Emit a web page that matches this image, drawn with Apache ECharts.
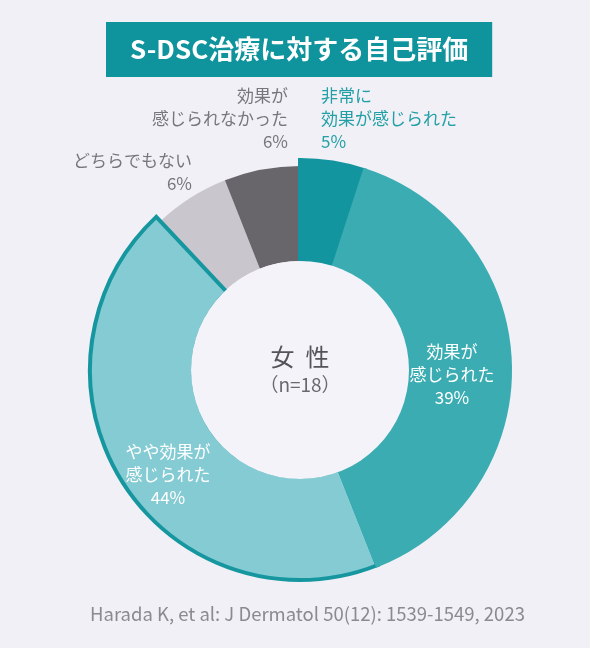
<!DOCTYPE html>
<html>
<head>
<meta charset="utf-8">
<script src="https://cdn.jsdelivr.net/npm/echarts@6/dist/echarts.min.js"></script>
<style>
html,body{margin:0;padding:0;background:#f1f0f6;}
#chart{width:590px;height:648px;}
</style>
</head>
<body>
<div id="chart"></div>
<script>
// ---- data ----
const categories = ['非常に効果が感じられた', '効果が感じられた', 'やや効果が感じられた', 'どちらでもない', '効果が感じられなかった'];
const labelTexts = ['非常に\n効果が感じられた', '効果が\n感じられた', 'やや効果が\n感じられた', 'どちらでもない', '効果が\n感じられなかった'];
const values = [5, 39, 44, 6, 6];
const centerTitle = '女  性';
const centerSub = '（n=18）';
const titleText = 'S-DSC治療に対する自己評価';
const sourceText = 'Harada K, et al: J Dermatol 50(12): 1539-1549, 2023';

// ---- styles ----
const FONT = '"Noto Sans CJK JP", "Noto Sans", sans-serif';
const sliceColors = ['#13959f', '#3aacb2', '#84cbd3', '#c9c7cd', '#68666b'];
const labelColors = ['#22a0a6', '#ffffff', '#ffffff', '#77767c', '#77767c'];
const CENTER = [300, 370];
const BG = '#f1f0f6';

const chart = echarts.init(document.getElementById('chart'), null, {renderer: 'canvas'});

function items(visibleIdx, extra) {
  return values.map((v, i) => {
    const vis = visibleIdx.indexOf(i) >= 0;
    const it = {value: v, name: categories[i],
      itemStyle: {color: vis ? sliceColors[i] : 'transparent', borderWidth: 0}};
    if (extra) extra(it, i, vis);
    return it;
  });
}

const labelPos = [
  {x: 321, y: 84, align: 'left', verticalAlign: 'top'},
  {x: 452, y: 375, align: 'center', verticalAlign: 'middle'},
  {x: 168, y: 475, align: 'center', verticalAlign: 'middle'},
  {x: 192, y: 149, align: 'right', verticalAlign: 'top'},
  {x: 288, y: 84, align: 'right', verticalAlign: 'top'}
];

const common = {type: 'pie', center: CENTER, startAngle: 90, clockwise: true,
  avoidLabelOverlap: false, silent: true, animation: false,
  emphasis: {disabled: true}, labelLine: {show: false}};

chart.setOption({
  backgroundColor: BG,
  title: [{
    text: titleText, left: 106, top: 22,
    backgroundColor: '#0f939c', padding: [12, 24, 13, 24],
    textStyle: {color: '#ffffff', fontSize: 26, fontWeight: 'bold', fontFamily: FONT, lineHeight: 30}
  }, {
    text: sourceText, left: 85, top: 600,
    textStyle: {color: '#8b8a91', fontSize: 18.5, fontWeight: 'normal', fontFamily: FONT}
  }],
  series: [
    Object.assign({}, common, {
      name: 'gray', z: 1, radius: [109, 204],
      label: {show: false},
      data: items([3, 4])
    }),
    Object.assign({}, common, {
      name: 'border', z: 2, radius: [107, 210],
      label: {show: false},
      data: items([2], (it, i, vis) => {
        if (vis) it.itemStyle = {color: sliceColors[i], borderColor: '#16979f', borderWidth: 4, borderJoin: 'miter'};
      })
    }),
    Object.assign({}, common, {
      name: 'teal', z: 3, radius: [107, 210],
      label: {
        show: true, position: 'inside', fontSize: 17, lineHeight: 23, fontFamily: FONT,
        formatter: p => labelTexts[p.dataIndex] + '\n' + p.value + '%'
      },
      labelLayout: p => labelPos[p.dataIndex],
      data: items([0, 1], (it, i, vis) => {
        if (vis) it.itemStyle = {color: sliceColors[i], borderColor: sliceColors[i], borderWidth: 4, borderJoin: 'miter'};
        it.label = {color: labelColors[i]};
      })
    }),
    Object.assign({}, common, {
      name: 'hole', z: 4, radius: [0, 109],
      data: [{value: 1, name: centerTitle, itemStyle: {color: '#f3f3f9', borderWidth: 0}}],
      label: {
        show: true, position: 'center',
        formatter: () => '{a|' + centerTitle + '}\n{b|' + centerSub + '}',
        rich: {
          a: {fontSize: 24, color: '#555458', fontFamily: FONT, lineHeight: 30},
          b: {fontSize: 19, color: '#6a696e', fontFamily: FONT, lineHeight: 26}
        }
      }
    })
  ]
});
</script>
</body>
</html>
